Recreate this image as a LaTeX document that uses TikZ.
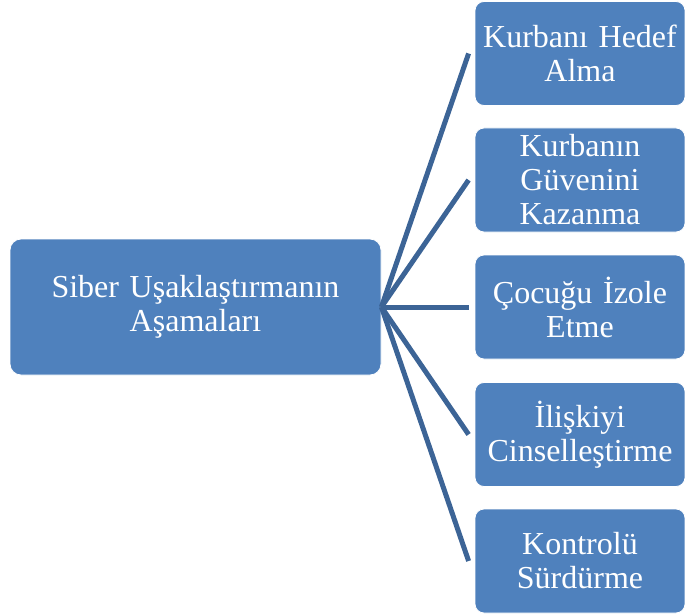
\documentclass[tikz,border=0pt]{standalone}
\usepackage{fontspec}
\setmainfont{Liberation Serif}
\definecolor{boxblue}{RGB}{79,129,189}
\definecolor{lineblue}{RGB}{60,100,150}
\begin{document}
\begin{tikzpicture}[x=1pt,y=-1pt,
  box/.style={draw=white,line width=0.8pt,fill=boxblue,rounded corners=9pt,
    text=white,align=center,inner sep=0pt,
    font=\fontsize{32}{34}\selectfont},
  small/.style={box,minimum width=210pt,minimum height=104pt,text width=205pt},
  conn/.style={draw=lineblue,line width=5pt}
]
\useasboundingbox (0,0) rectangle (685,615);
\node[box,minimum width=371pt,minimum height=136pt,text width=360pt,rounded corners=11pt] (main) at (195.5,307) {Siber Uşaklaştırmanın\\Aşamaları};
\node[small] (b1) at (580,53.5) {Kurbanı Hedef\\Alma};
\node[small] (b2) at (580,180) {Kurbanın\\Güvenini\\Kazanma};
\node[small] (b3) at (580,307) {Çocuğu İzole\\Etme};
\node[small] (b4) at (580,434.5) {İlişkiyi\\Cinselleştirme};
\node[small] (b5) at (580,561) {Kontrolü\\Sürdürme};
\foreach \b in {b1,b2,b3,b4,b5}
  \draw[conn] (main.east) -- ([xshift=-6pt]\b.west);
\end{tikzpicture}
\end{document}
